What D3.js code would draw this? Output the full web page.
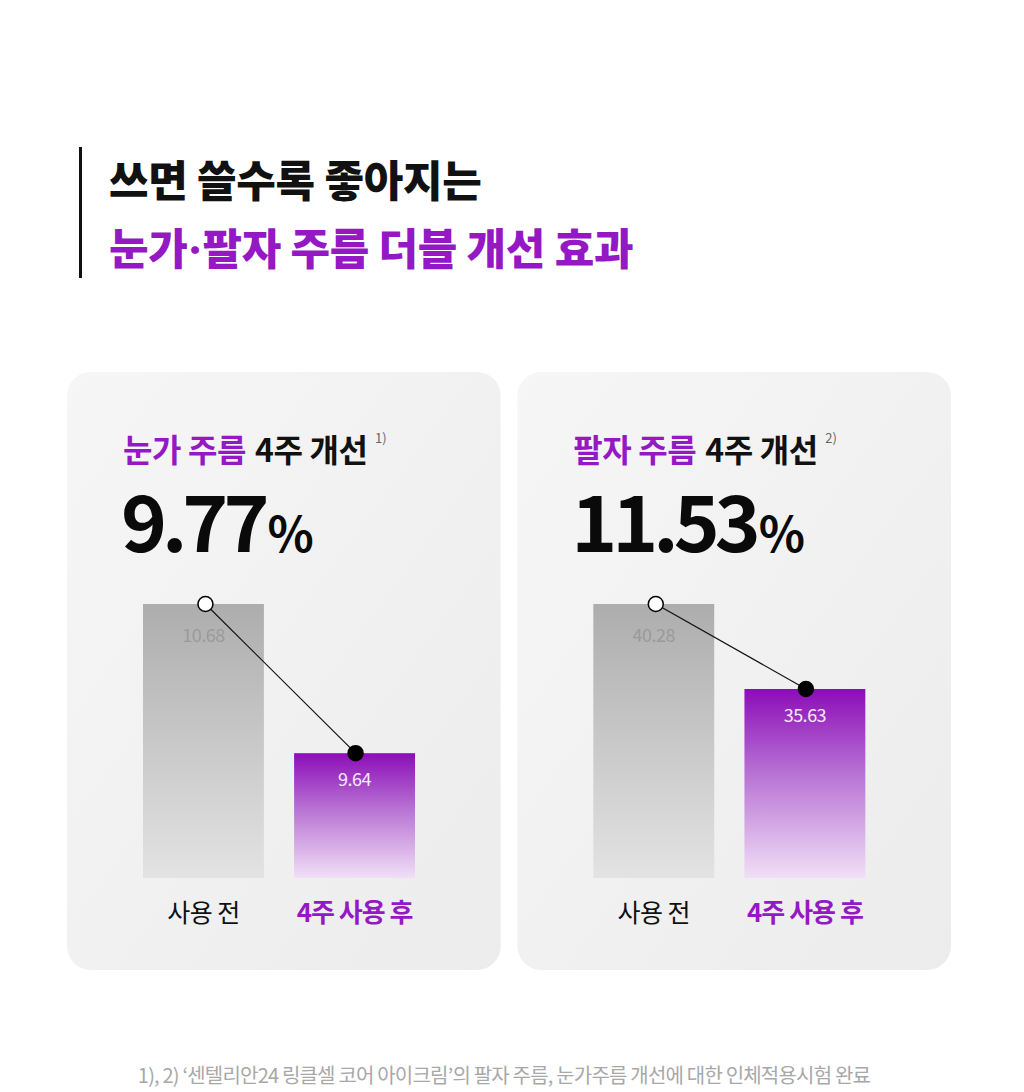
<!DOCTYPE html>
<html>
<head>
<meta charset="utf-8">
<script src="https://cdn.jsdelivr.net/npm/d3@7"></script>
<style>
  body { margin: 0; background: #fff; }
  text { font-family: "Noto Sans CJK KR", sans-serif; }
</style>
</head>
<body>
<div id="chart"></div>
<script>
const titleLine1 = ['쓰면 쓸수록 좋아지는'];
const titleLine2 = ['눈가', '·', '팔자 주름 더블 개선 효과'];
const panelNames = ['눈가 주름', '팔자 주름'];
const panelMarks = ['1)', '2)'];
const improvement = [9.77, 11.53];
const beforeValues = [10.68, 40.28];
const afterValues = [9.64, 35.63];
const categories = ['사용 전', '4주 사용 후'];
const footnote = '1), 2) ‘센텔리안24 링클셀 코어 아이크림’의 팔자 주름, 눈가주름 개선에 대한 인체적용시험 완료';

const purple = '#9419c4';

const draw = () => {
  const width = 1024, height = 1092;
  const svg = d3.select('#chart')
    .append('svg')
    .attr('width', width)
    .attr('height', height);

  const defs = svg.append('defs');
  const panelGrad = defs.append('linearGradient')
    .attr('id', 'panel-grad')
    .attr('x1', 0).attr('y1', 0).attr('x2', 1).attr('y2', 1);
  panelGrad.append('stop').attr('offset', 0).attr('stop-color', '#f6f6f6');
  panelGrad.append('stop').attr('offset', 1).attr('stop-color', '#ececec');
  const grayGrad = defs.append('linearGradient')
    .attr('id', 'gray-grad')
    .attr('x1', 0).attr('y1', 0).attr('x2', 0).attr('y2', 1);
  grayGrad.append('stop').attr('offset', 0).attr('stop-color', '#adadad');
  grayGrad.append('stop').attr('offset', 1).attr('stop-color', '#e3e3e3');
  const purpleGrad = defs.append('linearGradient')
    .attr('id', 'purple-grad')
    .attr('x1', 0).attr('y1', 0).attr('x2', 0).attr('y2', 1);
  purpleGrad.append('stop').attr('offset', 0).attr('stop-color', '#8c0db8');
  purpleGrad.append('stop').attr('offset', 0.45).attr('stop-color', '#b873d4');
  purpleGrad.append('stop').attr('offset', 1).attr('stop-color', '#f1dff6');

  // header
  svg.append('rect')
    .attr('x', 79).attr('y', 147).attr('width', 3).attr('height', 131)
    .attr('fill', '#111');
  svg.append('text')
    .attr('x', 109).attr('y', 197)
    .attr('font-size', 43)
    .attr('font-weight', 800)
    .attr('letter-spacing', -0.3)
    .attr('fill', '#111')
    .text(titleLine1[0]);
  svg.append('text')
    .attr('x', 109).attr('y', 265)
    .attr('font-size', 43)
    .attr('font-weight', 800)
    .attr('letter-spacing', -0.3)
    .attr('fill', purple)
    .selectAll('tspan')
    .data(titleLine2)
    .join('tspan')
    .attr('font-family', (d, i) => i === 1 ? 'Inter, sans-serif' : null)
    .text(d => d);

  // panels
  const px = d3.scaleBand().domain(d3.range(panelNames.length)).range([67, 951]).paddingInner(0.037);
  const yMin = [8.77, 25.29];

  panelNames.forEach((name, i) => {
    const g = svg.append('g').attr('transform', `translate(${px(i)},0)`);
    const pw = px.bandwidth();
    g.append('rect')
      .attr('x', 0).attr('y', 372)
      .attr('width', pw).attr('height', 598)
      .attr('rx', 24)
      .attr('fill', 'url(#panel-grad)');

    const headStyle = s => s
      .attr('y', 462)
      .attr('font-size', 32)
      .attr('font-weight', 700)
      .attr('letter-spacing', -0.4);
    const head1 = g.append('text')
      .attr('x', 56)
      .call(headStyle)
      .attr('fill', purple)
      .text(name);
    const w1 = head1.node().getComputedTextLength();
    g.append('text')
      .attr('x', 56 + w1 + 9)
      .call(headStyle)
      .attr('fill', '#111')
      .text('4주 개선');
    g.append('text')
      .attr('x', 308).attr('y', 443)
      .attr('font-size', 13)
      .attr('fill', '#666')
      .text(panelMarks[i]);

    const big = g.append('text')
      .attr('x', 54).attr('y', 552)
      .attr('font-family', 'Inter, sans-serif')
      .attr('font-weight', 700)
      .attr('fill', '#0a0a0a');
    big.append('tspan')
      .attr('font-size', 78)
      .attr('letter-spacing', -5)
      .text(d3.format('.2f')(improvement[i]));
    big.append('tspan')
      .attr('dx', 3)
      .attr('font-size', 48)
      .attr('font-weight', 600)
      .text('%');

    const x = d3.scaleBand().domain(categories).range([76, 348]).paddingInner(0.2);
    const y = d3.scaleLinear().domain([yMin[i], beforeValues[i]]).range([878, 604]);
    const vals = [beforeValues[i], afterValues[i]];
    const bars = categories.map((c, j) => ({c, v: vals[j], j}));

    g.selectAll('.bar')
      .data(bars)
      .join('rect')
      .attr('class', 'bar')
      .attr('x', d => x(d.c))
      .attr('y', d => y(d.v))
      .attr('width', x.bandwidth())
      .attr('height', d => y.range()[0] - y(d.v))
      .attr('fill', d => d.j ? 'url(#purple-grad)' : 'url(#gray-grad)');

    g.selectAll('.val')
      .data(bars)
      .join('text')
      .attr('class', 'val')
      .attr('x', d => x(d.c) + x.bandwidth() / 2)
      .attr('y', d => y(d.v) + (d.j ? 33 : 38))
      .attr('text-anchor', 'middle')
      .attr('font-family', 'Inter, sans-serif')
      .attr('font-size', 18)
      .attr('letter-spacing', -0.5)
      .attr('fill', d => d.j ? '#f8e8fb' : '#9a9a9a')
      .text(d => d3.format('.2f')(d.v));

    const cx = d => x(d.c) + x.bandwidth() / 2 + (d.j ? 1 : 2);
    g.append('path')
      .datum(bars)
      .attr('d', d3.line().x(cx).y(d => y(d.v)))
      .attr('fill', 'none')
      .attr('stroke', '#111')
      .attr('stroke-width', 1.2);
    g.selectAll('.dot')
      .data(bars)
      .join('circle')
      .attr('class', 'dot')
      .attr('cx', cx)
      .attr('cy', d => y(d.v))
      .attr('r', 7.5)
      .attr('fill', d => d.j ? '#000' : '#fff')
      .attr('stroke', '#000')
      .attr('stroke-width', 1.5);

    g.selectAll('.cat')
      .data(bars)
      .join('text')
      .attr('class', 'cat')
      .attr('x', d => x(d.c) + x.bandwidth() / 2)
      .attr('y', 922)
      .attr('text-anchor', 'middle')
      .attr('font-size', d => d.j ? 26 : 25)
      .attr('letter-spacing', d => d.j ? -1 : -0.5)
      .attr('font-weight', d => d.j ? 700 : 400)
      .attr('fill', d => d.j ? purple : '#111')
      .text(d => d.c);
  });

  svg.append('text')
    .attr('x', 504).attr('y', 1083)
    .attr('text-anchor', 'middle')
    .attr('font-size', 20)
    .attr('letter-spacing', -0.8)
    .attr('fill', '#a8a8a8')
    .text(footnote);
}

draw();
</script>
</body>
</html>
